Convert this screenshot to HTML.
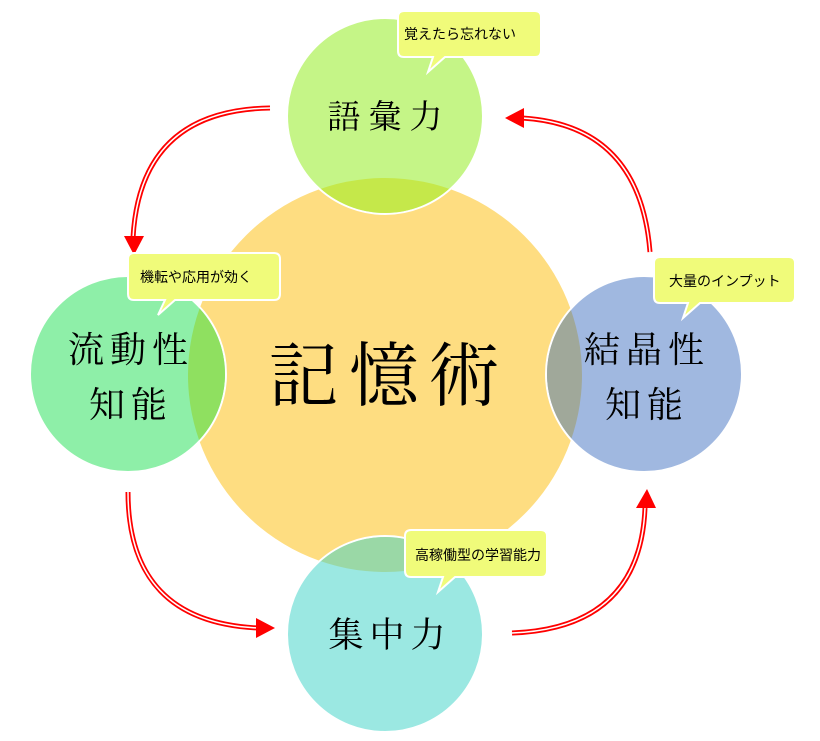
<!DOCTYPE html>
<html><head><meta charset="utf-8"><style>
html,body{margin:0;padding:0;background:#fff;}
svg{display:block}
.big{font-family:"Liberation Serif","Noto Serif CJK JP","Noto Serif CJK SC",serif;fill:#000;}
.co{font-family:"Liberation Sans","Noto Sans CJK JP",sans-serif;font-size:14px;fill:#000;}
</style></head><body>
<svg width="820" height="741" viewBox="0 0 820 741" xmlns="http://www.w3.org/2000/svg">
<defs>
<clipPath id="cb"><circle cx="385" cy="375" r="197"/></clipPath>
</defs>
<circle cx="385" cy="375" r="197" fill="#fedd81"/>
<circle cx="385" cy="116" r="98" fill="#c5f587" stroke="#fff" stroke-width="2"/>
<circle cx="128" cy="374" r="98" fill="#8eefa8" stroke="#fff" stroke-width="2"/>
<circle cx="644" cy="374" r="98" fill="#a0b8e0" stroke="#fff" stroke-width="2"/>
<circle cx="385" cy="634" r="98" fill="#9be8e2" stroke="#fff" stroke-width="2"/>
<g clip-path="url(#cb)">
<circle cx="385" cy="116" r="97" fill="#c5e84a"/>
<circle cx="128" cy="374" r="97" fill="#8fe060"/>
<circle cx="644" cy="374" r="97" fill="#a0a89a"/>
<circle cx="385" cy="634" r="97" fill="#9ad8a6"/>
</g>
<g fill="none">
<path d="M270 108 Q140 110 133 238" stroke="#f00" stroke-width="5"/>
<path d="M270 108 Q140 110 133 238" stroke="#fff" stroke-width="1.5"/>
<path d="M650 252 Q640 125 522 118" stroke="#f00" stroke-width="5"/>
<path d="M650 252 Q640 125 522 118" stroke="#fff" stroke-width="1.5"/>
<path d="M128 492 Q128 622 258 628" stroke="#f00" stroke-width="5"/>
<path d="M128 492 Q128 622 258 628" stroke="#fff" stroke-width="1.5"/>
<path d="M512 633 Q640 628 645 508" stroke="#f00" stroke-width="5"/>
<path d="M512 633 Q640 628 645 508" stroke="#fff" stroke-width="1.5"/>
</g>
<polygon points="124,236 144,236 134,255" fill="#f00"/>
<polygon points="524,108 524,128 505,118" fill="#f00"/>
<polygon points="256,618 256,638 275,628" fill="#f00"/>
<polygon points="636,508 656,508 647,489" fill="#f00"/>
<text class="big" x="389" y="128" font-size="33" text-anchor="middle" letter-spacing="8">語彙力</text>
<text class="big" x="131" y="362" font-size="36" text-anchor="middle" letter-spacing="6">流動性</text>
<text class="big" x="131" y="417" font-size="36" text-anchor="middle" letter-spacing="6">知能</text>
<text class="big" x="647" y="362" font-size="36" text-anchor="middle" letter-spacing="6">結晶性</text>
<text class="big" x="647" y="417" font-size="36" text-anchor="middle" letter-spacing="6">知能</text>
<text class="big" x="389" y="400" font-size="70" text-anchor="middle" letter-spacing="10">記憶術</text>
<text class="big" x="390" y="647" font-size="35" text-anchor="middle" letter-spacing="6">集中力</text>
<g fill="#f0fb7a" stroke="#fff" stroke-width="2">
<path d="M404 11 H535 Q541 11 541 17 V51 Q541 57 535 57 H445 L428 72 L433 57 H404 Q398 57 398 51 V17 Q398 11 404 11 Z"/>
<path d="M134 253 H274 Q280 253 280 259 V294 Q280 300 274 300 H175 L158 315 L165 300 H134 Q128 300 128 294 V259 Q128 253 134 253 Z"/>
<path d="M660 257 H789 Q795 257 795 263 V297 Q795 303 789 303 H700 L683 318 L688 303 H660 Q654 303 654 297 V263 Q654 257 660 257 Z"/>
<path d="M411 530 H541 Q547 530 547 536 V571 Q547 577 541 577 H455 L438 592 L443 577 H411 Q405 577 405 571 V536 Q405 530 411 530 Z"/>
</g>
<text class="co" x="404" y="39">覚えたら忘れない</text>
<text class="co" x="140" y="282">機転や応用が効く</text>
<text class="co" x="669" y="286">大量のインプット</text>
<text class="co" x="415" y="560">高稼働型の学習能力</text>
</svg>
</body></html>
